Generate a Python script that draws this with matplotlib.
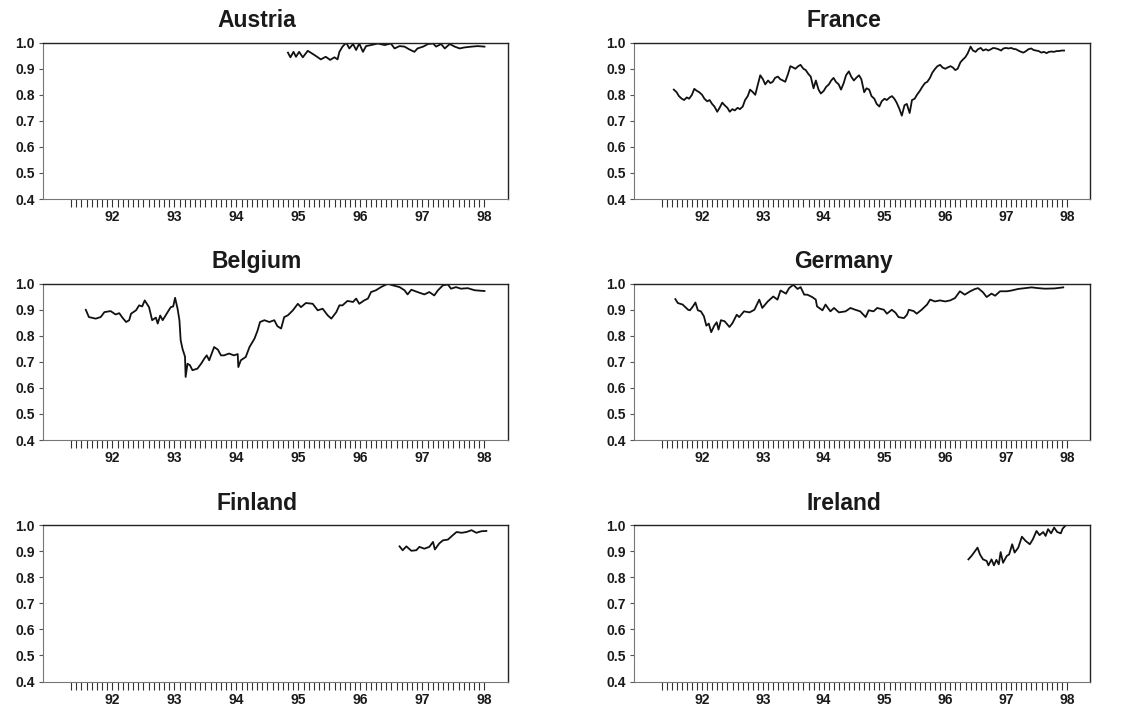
import numpy as np
import pandas as pd
import matplotlib
matplotlib.use("Agg")
import matplotlib.pyplot as plt

plt.rcParams["font.family"] = ["Liberation Sans", "DejaVu Sans"]
plt.rcParams["font.weight"] = "bold"

# France: semi-monthly readings from mid-July 1991
france_vals = [
    .82, .81, .795, .785, .78, .79, .785, .80, .823, .815, .81, .80,
    .785, .775, .78, .765, .755, .735, .75, .77, .76, .75, .735, .745,
    .74, .75, .745, .755, .78, .795, .82, .81, .80, .84, .875, .86,
    .84, .855, .845, .85, .865, .87, .86, .855, .85, .88, .91, .905,
    .90, .91, .915, .90, .895, .88, .87, .825, .855, .82, .805, .815,
    .83, .84, .855, .865, .85, .84, .82, .845, .875, .89, .87, .855,
    .865, .875, .86, .81, .825, .82, .795, .785, .765, .755, .775, .785,
    .78, .79, .795, .785, .77, .745, .72, .76, .765, .73, .78, .785,
    .80, .815, .83, .845, .85, .865, .885, .90, .91, .915, .905, .90,
    .905, .91, .905, .895, .90, .925, .935, .945, .96, .985, .97, .965,
    .975, .98, .97, .975, .97, .975, .98, .978, .975, .97, .978, .98,
    .978, .98, .976, .975, .97, .965, .962, .968, .975, .978, .972, .97,
    .968, .962, .965, .96, .965, .966, .965, .968, .968, .97, .97,
]
france_dates = pd.date_range("1991-07-15", periods=len(france_vals), freq="SMS")
france_years = (france_dates.year - 1900 + (france_dates.dayofyear - 1) / 365.0).to_numpy()

belgium_years = [
    91.57, 91.62, 91.73, 91.81, 91.87, 91.97, 92.05, 92.11, 92.16, 92.22,
    92.27, 92.30, 92.38, 92.43, 92.48, 92.52, 92.59, 92.64, 92.70, 92.73,
    92.77, 92.81, 92.89, 92.94, 92.98, 93.01, 93.05, 93.08, 93.10, 93.13,
    93.17, 93.18, 93.21, 93.25, 93.29, 93.37, 93.43, 93.48, 93.52, 93.56,
    93.64, 93.70, 93.75, 93.80, 93.88, 93.96, 94.02, 94.03, 94.07, 94.15,
    94.21, 94.29, 94.34, 94.38, 94.45, 94.53, 94.61, 94.66, 94.72, 94.77,
    94.83, 94.91, 94.99, 95.04, 95.12, 95.23, 95.31, 95.39, 95.47, 95.53,
    95.61, 95.66, 95.71, 95.79, 95.88, 95.93, 95.98, 96.06, 96.12, 96.17,
    96.25, 96.33, 96.44, 96.52, 96.63, 96.71, 96.76, 96.82, 96.92, 97.03,
    97.11, 97.19, 97.25, 97.33, 97.41, 97.46, 97.54, 97.62, 97.73, 97.84,
    98.00,
]
belgium_vals = [
    .90, .872, .866, .872, .891, .895, .882, .887, .87, .853,
    .86, .885, .898, .917, .913, .936, .91, .86, .87, .847,
    .878, .86, .891, .91, .913, .946, .904, .86, .783, .75,
    .72, .642, .693, .687, .668, .674, .693, .712, .725, .706,
    .757, .747, .725, .725, .732, .725, .73, .68, .706, .719,
    .757, .789, .82, .853, .86, .853, .86, .837, .828, .872,
    .879, .898, .923, .91, .926, .923, .898, .904, .879, .866,
    .891, .917, .917, .934, .93, .943, .923, .936, .943, .968,
    .975, .987, 1.0, .994, .987, .975, .959, .977, .968, .959,
    .968, .955, .975, .994, .997, .981, .987, .981, .983, .975,
    .972,
]

germany_years = [
    91.56, 91.60, 91.68, 91.77, 91.80, 91.85, 91.89, 91.93, 91.98, 92.03,
    92.07, 92.11, 92.15, 92.20, 92.24, 92.27, 92.31, 92.37, 92.45, 92.50,
    92.57, 92.61, 92.69, 92.78, 92.86, 92.94, 92.99, 93.08, 93.17, 93.24,
    93.29, 93.38, 93.43, 93.50, 93.57, 93.62, 93.68, 93.73, 93.81, 93.87,
    93.89, 93.98, 94.03, 94.11, 94.17, 94.25, 94.36, 94.44, 94.52, 94.60,
    94.69, 94.74, 94.82, 94.88, 94.99, 95.04, 95.12, 95.18, 95.23, 95.32,
    95.37, 95.40, 95.48, 95.53, 95.61, 95.70, 95.75, 95.83, 95.91, 96.00,
    96.08, 96.16, 96.24, 96.32, 96.41, 96.49, 96.54, 96.62, 96.68, 96.76,
    96.82, 96.90, 97.01, 97.09, 97.20, 97.31, 97.42, 97.53, 97.64, 97.80,
    97.94,
]
germany_vals = [
    .941, .926, .92, .90, .898, .913, .928, .898, .894, .875,
    .839, .847, .814, .839, .852, .824, .86, .856, .834, .849,
    .881, .872, .894, .89, .90, .939, .907, .932, .951, .939,
    .974, .962, .983, .996, .98, .987, .958, .958, .949, .939,
    .913, .898, .92, .894, .907, .89, .894, .907, .90, .894,
    .872, .898, .894, .907, .90, .885, .90, .889, .872, .868,
    .881, .90, .895, .885, .90, .92, .939, .932, .936, .932,
    .936, .945, .971, .958, .971, .98, .983, .967, .949, .962,
    .954, .971, .971, .974, .98, .983, .986, .983, .981, .982,
    .986,
]

austria_years = [
    94.83, 94.87, 94.92, 94.96, 95.01, 95.07, 95.15, 95.23, 95.30, 95.36,
    95.44, 95.51, 95.58, 95.63, 95.66, 95.71, 95.77, 95.82, 95.88, 95.93,
    95.98, 96.04, 96.09, 96.17, 96.28, 96.39, 96.49, 96.55, 96.63, 96.71,
    96.79, 96.87, 96.92, 97.01, 97.09, 97.17, 97.22, 97.30, 97.36, 97.44,
    97.52, 97.60, 97.68, 97.79, 97.89, 98.00,
]
austria_vals = [
    .962, .944, .965, .946, .965, .944, .969, .957, .946, .936,
    .946, .934, .944, .936, .965, .985, 1.0, .978, .995, .972,
    .997, .965, .987, .991, .997, .991, .997, .978, .987, .985,
    .974, .965, .978, .985, .995, .997, .985, .995, .978, .995,
    .985, .978, .982, .985, .987, .985,
]

finland_years = [
    96.63, 96.68, 96.74, 96.82, 96.90, 96.95, 97.03, 97.11, 97.17, 97.20,
    97.27, 97.33, 97.41, 97.49, 97.55, 97.63, 97.71, 97.79, 97.87, 97.95,
    98.03,
]
finland_vals = [
    .919, .904, .919, .902, .904, .917, .91, .917, .936, .907,
    .93, .942, .945, .962, .974, .971, .974, .981, .971, .977,
    .978,
]

ireland_years = [
    96.38, 96.43, 96.49, 96.53, 96.57, 96.62, 96.68, 96.71, 96.76, 96.80,
    96.84, 96.88, 96.91, 96.95, 97.01, 97.05, 97.10, 97.14, 97.20, 97.26,
    97.32, 97.39, 97.44, 97.50, 97.55, 97.61, 97.65, 97.69, 97.74, 97.79,
    97.84, 97.90, 97.93, 97.97,
]
ireland_vals = [
    .869, .882, .901, .914, .888, .869, .863, .846, .869, .846,
    .867, .85, .897, .856, .882, .888, .927, .895, .914, .956,
    .94, .927, .946, .978, .962, .974, .959, .985, .969, .991,
    .974, .969, .987, .997,
]

panels = [
    ("Austria", austria_years, austria_vals),
    ("France", france_years, france_vals),
    ("Belgium", belgium_years, belgium_vals),
    ("Germany", germany_years, germany_vals),
    ("Finland", finland_years, finland_vals),
    ("Ireland", ireland_years, ireland_vals),
]

year_labels = ["92", "93", "94", "95", "96", "97", "98"]
year_ticks = [92, 93, 94, 95, 96, 97, 98]
month_ticks = np.arange(91 + 4 / 12, 98.0, 1 / 12)

fig = plt.figure(figsize=(11.44, 7.12), dpi=100)

col_left = [0.0376, 0.5542]
col_width = [0.4065, 0.3986]
row_bottom = [0.7205, 0.382, 0.0428]
row_height = 0.2195

for k, (name, xs, ys) in enumerate(panels):
    r, c = divmod(k, 2)
    ax = fig.add_axes([col_left[c], row_bottom[r], col_width[c], row_height])
    ax.plot(xs, ys, color="#111111", lw=1.3)
    ax.set_xlim(90.88, 98.38)
    ax.set_ylim(0.4, 1.0)
    ax.set_yticks(np.arange(0.4, 1.01, 0.1))
    ax.set_yticklabels([f"{v:.1f}" for v in np.arange(0.4, 1.01, 0.1)])
    ax.set_xticks(year_ticks)
    ax.set_xticklabels(year_labels)
    ax.set_xticks(month_ticks, minor=True)
    ax.tick_params(axis="x", which="both", length=6, width=0.8, color="#333333",
                   labelsize=10, pad=2)
    ax.tick_params(axis="y", length=3, width=0.8, color="#555555", labelsize=10, pad=3)
    for lab in ax.get_xticklabels() + ax.get_yticklabels():
        lab.set_fontweight("bold")
        lab.set_color("#1a1a1a")
    for side in ["left", "bottom"]:
        ax.spines[side].set_color("#777777")
        ax.spines[side].set_linewidth(0.8)
    for side in ["top", "right"]:
        ax.spines[side].set_color("#222222")
        ax.spines[side].set_linewidth(1.0)
    ax.set_title(name, fontsize=16.5, fontweight="bold", color="#1a1a1a",
                 x=0.46, pad=11)

fig.savefig("out.png", dpi=100)
